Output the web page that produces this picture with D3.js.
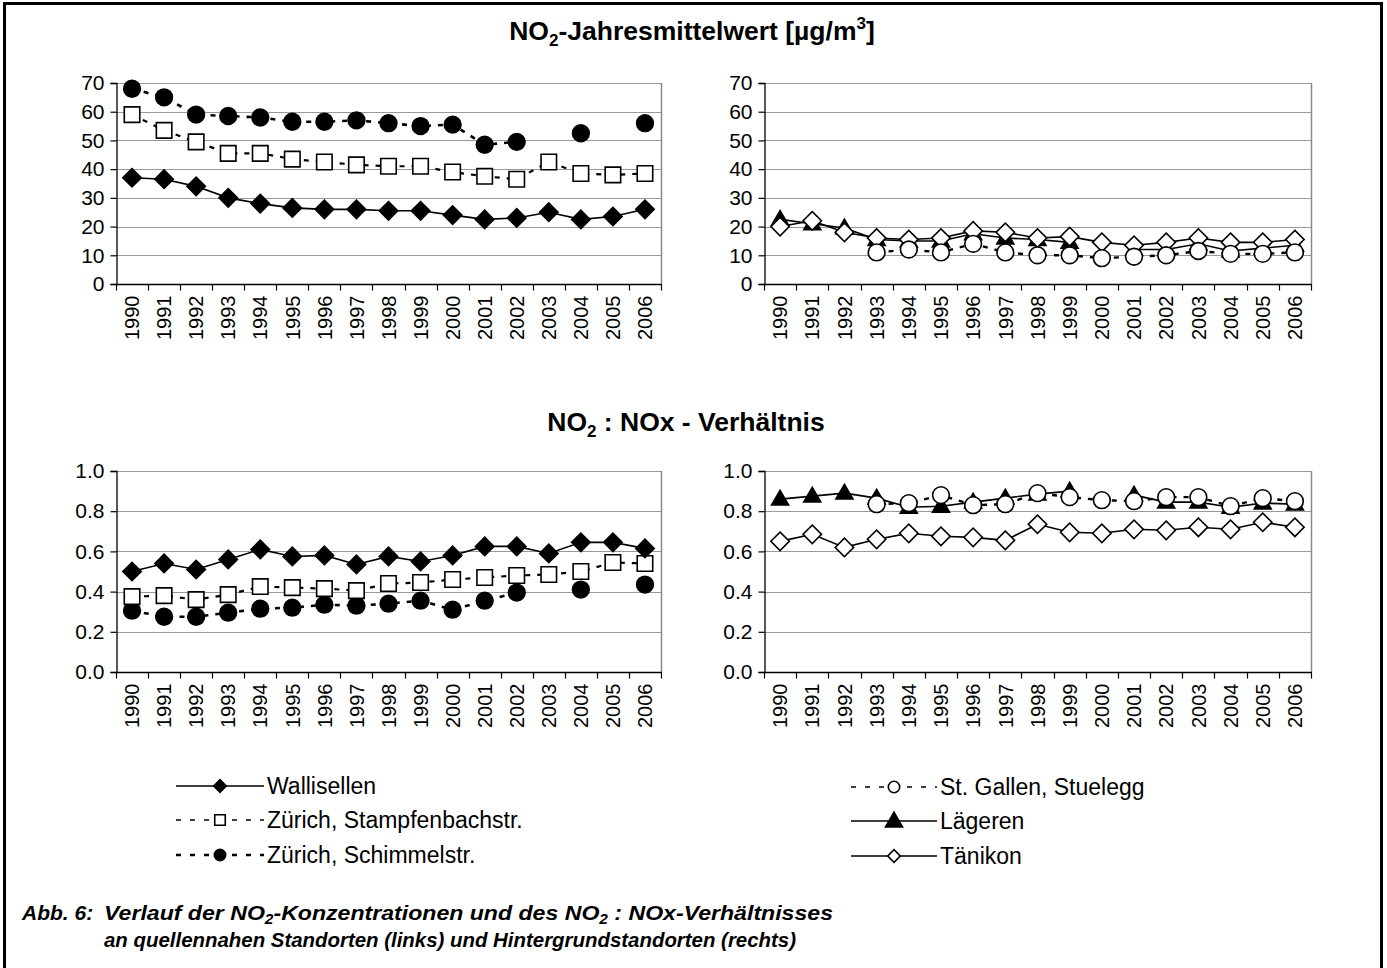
<!DOCTYPE html>
<html>
<head>
<meta charset="utf-8">
<script src="https://cdn.jsdelivr.net/npm/d3@7"></script>
<style>
  html, body { margin: 0; padding: 0; background: #fff; }
  svg { display: block; font-family: "Liberation Sans", Arial, sans-serif; }
</style>
</head>
<body>
<svg id="chart" width="1387" height="968"></svg>
<script>
// ---------- DATA ----------
const years = [1990,1991,1992,1993,1994,1995,1996,1997,1998,1999,2000,2001,2002,2003,2004,2005,2006];
const no2Ticks = [0,10,20,30,40,50,60,70];
const ratioTicks = [0,0.2,0.4,0.6,0.8,1.0];

// NO2 annual means [µg/m3] – source-near sites
const no2Wallisellen   = [37,36.5,34,30,28,26.5,26,26,25.5,25.5,24,22.5,23,25,22.5,23.5,26];
const no2Stampfenbach  = [59,53.5,49.5,45.5,45.5,43.5,42.5,41.5,41,41,39,37.5,36.5,42.5,38.5,38,38.5];
const no2Schimmel      = [68,65,59,58.5,58,56.5,56.5,57,56,55,55.5,48.5,49.5,null,52.5,null,56];
// NO2 annual means – background sites
const no2StGallen      = [null,null,null,11,12,11,14,11,10,10,9,9.5,10,11.5,10.5,10.5,11];
const no2Laegeren      = [22.5,21,19.5,15.5,15,15,17.5,16,15.5,14.5,null,12,12,14,11.5,12.5,13.5];
const no2Taenikon      = [20,22,18,16,15.5,16,18.5,18,16,16.5,14.5,13.5,14.5,16,14.5,14.5,15.5];

// NO2 : NOx ratio – source-near sites
const rWallisellen  = [0.50,0.54,0.51,0.56,0.61,0.575,0.58,0.535,0.575,0.55,0.58,0.625,0.625,0.59,0.645,0.645,0.615];
const rStampfenbach = [0.375,0.38,0.36,0.385,0.425,0.42,0.415,0.405,0.44,0.445,0.46,0.47,0.48,0.485,0.50,0.545,0.54];
const rSchimmel     = [0.305,0.275,0.275,0.295,0.315,0.32,0.335,0.33,0.34,0.355,0.31,0.355,0.395,null,0.41,null,0.435];
// NO2 : NOx ratio – background sites
const rStGallen     = [null,null,null,0.835,0.84,0.88,0.83,0.835,0.89,0.87,0.855,0.85,0.87,0.87,0.825,0.865,0.85];
const rLaegeren     = [0.86,0.875,0.89,0.865,0.82,0.825,0.845,0.865,0.885,0.90,null,0.88,0.845,0.845,0.82,0.84,0.835];
const rTaenikon     = [0.65,0.685,0.62,0.66,0.69,0.675,0.67,0.655,0.735,0.695,0.69,0.71,0.705,0.72,0.71,0.745,0.72];

const leftNames  = ["Wallisellen","Zürich, Stampfenbachstr.","Zürich, Schimmelstr."];
const rightNames = ["St. Gallen, Stuelegg","Lägeren","Tänikon"];

// ---------- STYLES ----------
const styles = {
  "Wallisellen":               {sym:"diamond", fill:"#000", dash:null,  lw:1.6},
  "Zürich, Stampfenbachstr.":  {sym:"square",  fill:"#fff", dash:"5,7", lw:2.2},
  "Zürich, Schimmelstr.":      {sym:"circle",  fill:"#000", dash:"5,7", lw:2.6},
  "St. Gallen, Stuelegg":      {sym:"circle",  fill:"#fff", dash:"5,7", lw:2.4},
  "Lägeren":                   {sym:"triangle",fill:"#000", dash:null,  lw:1.6},
  "Tänikon":                   {sym:"diamond", fill:"#fff", dash:null,  lw:1.6}
};

const svg = d3.select("#chart");
const FONT = "Liberation Sans, Arial, sans-serif";

function symbolPath(type, scale) {
  const s = scale || 1;
  if (type === "diamond") return d3.symbol(d3.symbolSquare, 170*s*s)();
  if (type === "square")  return d3.symbol(d3.symbolSquare, 240*s*s)();
  if (type === "circle")  return d3.symbol(d3.symbolCircle, 220*s*s)();
  if (type === "triangle") return d3.symbol(d3.symbolTriangle, 125*s*s)();
}
function drawMarker(g, type, fill, x, y, scale) {
  g.append("path")
    .attr("d", symbolPath(type, scale))
    .attr("transform", `translate(${x},${y})` + (type === "diamond" ? " rotate(45)" : "") + (type==="triangle" ? " translate(0,1)" : ""))
    .attr("fill", fill)
    .attr("stroke", "#000")
    .attr("stroke-width", 1.6);
}

// ---------- FRAME ----------
svg.append("rect").attr("x", 4.5).attr("y", 3.5).attr("width", 1377).attr("height", 1100)
  .attr("fill", "none").attr("stroke", "#000").attr("stroke-width", 3);

// ---------- TITLES ----------
function subTitle(cx, y, parts) {
  const t = svg.append("text").attr("x", cx).attr("y", y).attr("text-anchor", "middle")
    .attr("font-family", FONT).attr("font-weight", "bold").attr("font-size", 26.5);
  parts.forEach(p => {
    const ts = t.append("tspan").text(p.t);
    if (p.sub) ts.attr("font-size", 17).attr("dy", 6);
    if (p.sup) ts.attr("font-size", 17).attr("dy", -11);
    if (p.back) ts.attr("dy", p.back);
  });
}
subTitle(692, 40, [{t:"NO"},{t:"2",sub:true},{t:"-Jahresmittelwert [µg/m",back:-6},{t:"3",sup:true},{t:"]",back:11}]);
subTitle(686, 431, [{t:"NO"},{t:"2",sub:true},{t:" : NOx - Verhältnis",back:-6}]);

// ---------- PANELS ----------
const panels = [
  {x0:116, x1:661,  y0:83,  y1:284, dom:[0,70], ticks:no2Ticks,   fmt:d3.format("d"),
   names:leftNames,  data:[no2Wallisellen,no2Stampfenbach,no2Schimmel], order:[2,1,0]},
  {x0:764, x1:1311, y0:83,  y1:284, dom:[0,70], ticks:no2Ticks,   fmt:d3.format("d"),
   names:rightNames, data:[no2StGallen,no2Laegeren,no2Taenikon], order:[1,2,0]},
  {x0:116, x1:661,  y0:471, y1:672, dom:[0,1],  ticks:ratioTicks, fmt:d3.format(".1f"),
   names:leftNames,  data:[rWallisellen,rStampfenbach,rSchimmel], order:[2,1,0]},
  {x0:764, x1:1311, y0:471, y1:672, dom:[0,1],  ticks:ratioTicks, fmt:d3.format(".1f"),
   names:rightNames, data:[rStGallen,rLaegeren,rTaenikon], order:[1,2,0]}
];

panels.forEach(p => {
  const x = d3.scaleBand().domain(years).range([p.x0, p.x1]).padding(0);
  const y = d3.scaleLinear().domain(p.dom).range([p.y1, p.y0]);
  const g = svg.append("g");

  // gridlines
  g.selectAll(".grid").data(p.ticks.filter(t => t > p.dom[0])).enter().append("line")
    .attr("x1", p.x0).attr("x2", p.x1)
    .attr("y1", d => Math.round(y(d)) + 0.5).attr("y2", d => Math.round(y(d)) + 0.5)
    .attr("stroke", "#999").attr("stroke-width", 1);
  // right border of plot area
  g.append("line").attr("x1", p.x1 + 0.5).attr("x2", p.x1 + 0.5).attr("y1", p.y0).attr("y2", p.y1)
    .attr("stroke", "#888").attr("stroke-width", 1.5);

  // y axis
  const yAxis = d3.axisLeft(y).tickValues(p.ticks).tickFormat(p.fmt).tickSize(6).tickPadding(6);
  const ya = g.append("g").attr("transform", `translate(${p.x0 + 0.5},0)`).call(yAxis);
  ya.select(".domain").attr("stroke", "#000").attr("stroke-width", 1.3);
  ya.selectAll(".tick line").attr("stroke", "#000").attr("stroke-width", 1.2);
  ya.selectAll(".tick text").attr("font-family", FONT).attr("font-size", 21).attr("fill", "#000");

  // x axis (category axis: ticks at boundaries)
  const xa = g.append("g").attr("transform", `translate(0,${p.y1 + 0.5})`);
  xa.append("line").attr("x1", p.x0).attr("x2", p.x1 + 1).attr("y1", 0).attr("y2", 0)
    .attr("stroke", "#000").attr("stroke-width", 1.3);
  const bounds = years.map(d => x(d)).concat([p.x1]);
  xa.selectAll(".xt").data(bounds).enter().append("line")
    .attr("x1", d => Math.round(d) + 0.5).attr("x2", d => Math.round(d) + 0.5)
    .attr("y1", 0).attr("y2", 6).attr("stroke", "#000").attr("stroke-width", 1.2);
  xa.selectAll(".xl").data(years).enter().append("text")
    .attr("transform", d => `translate(${x(d) + x.bandwidth()/2},11) rotate(-90)`)
    .attr("text-anchor", "end").attr("dy", "0.36em")
    .attr("font-family", FONT).attr("font-size", 20).attr("fill", "#000")
    .text(d => d);

  // series
  p.order.forEach(i => {
    const name = p.names[i], st = styles[name], vals = p.data[i];
    const line = d3.line()
      .defined(d => d.v != null)
      .x(d => x(d.yr) + x.bandwidth()/2)
      .y(d => y(d.v));
    const pts = years.map((yr, k) => ({yr, v: vals[k]}));
    g.append("path").datum(pts).attr("d", line)
      .attr("fill", "none").attr("stroke", "#000").attr("stroke-width", st.lw)
      .attr("stroke-dasharray", st.dash);
    pts.filter(d => d.v != null).forEach(d =>
      drawMarker(g, st.sym, st.fill, x(d.yr) + x.bandwidth()/2, y(d.v), 1));
  });
});

// ---------- LEGENDS ----------
function legend(names, lx0, lx1, tx, ys) {
  names.forEach((n, i) => {
    const st = styles[n], yy = ys[i];
    svg.append("line").attr("x1", lx0).attr("x2", lx1).attr("y1", yy).attr("y2", yy)
      .attr("stroke", "#000").attr("stroke-width", st.dash ? (n.includes("Schimmel") ? 2.4 : 1.5) : 1.5)
      .attr("stroke-dasharray", st.dash ? "5,9" : null);
    drawMarker(svg, st.sym, st.fill, (lx0 + lx1)/2, yy, st.sym === "triangle" ? 1 : 0.68);
    svg.append("text").attr("x", tx).attr("y", yy + 8).attr("font-family", FONT)
      .attr("font-size", 23).attr("fill", "#000").text(n);
  });
}
legend(leftNames,  176, 264, 267, [786, 820, 855]);
legend(rightNames, 851, 937, 940, [787, 821, 856]);

// ---------- CAPTION ----------
const cap = svg.append("g").attr("font-family", FONT).attr("font-weight", "bold")
  .attr("font-style", "italic").attr("font-size", 21);
cap.append("text").attr("x", 22).attr("y", 920).text("Abb. 6:");
const c1 = cap.append("text").attr("x", 104).attr("y", 920)
  .attr("textLength", 729).attr("lengthAdjust", "spacingAndGlyphs");
c1.append("tspan").text("Verlauf der NO");
c1.append("tspan").attr("font-size", 14).attr("dy", 4).text("2");
c1.append("tspan").attr("dy", -4).text("-Konzentrationen und des NO");
c1.append("tspan").attr("font-size", 14).attr("dy", 4).text("2");
c1.append("tspan").attr("dy", -4).text(" : NOx-Verhältnisses");
cap.append("text").attr("x", 104).attr("y", 947)
  .attr("textLength", 692).attr("lengthAdjust", "spacingAndGlyphs")
  .text("an quellennahen Standorten (links) und Hintergrundstandorten (rechts)");
</script>
</body>
</html>
